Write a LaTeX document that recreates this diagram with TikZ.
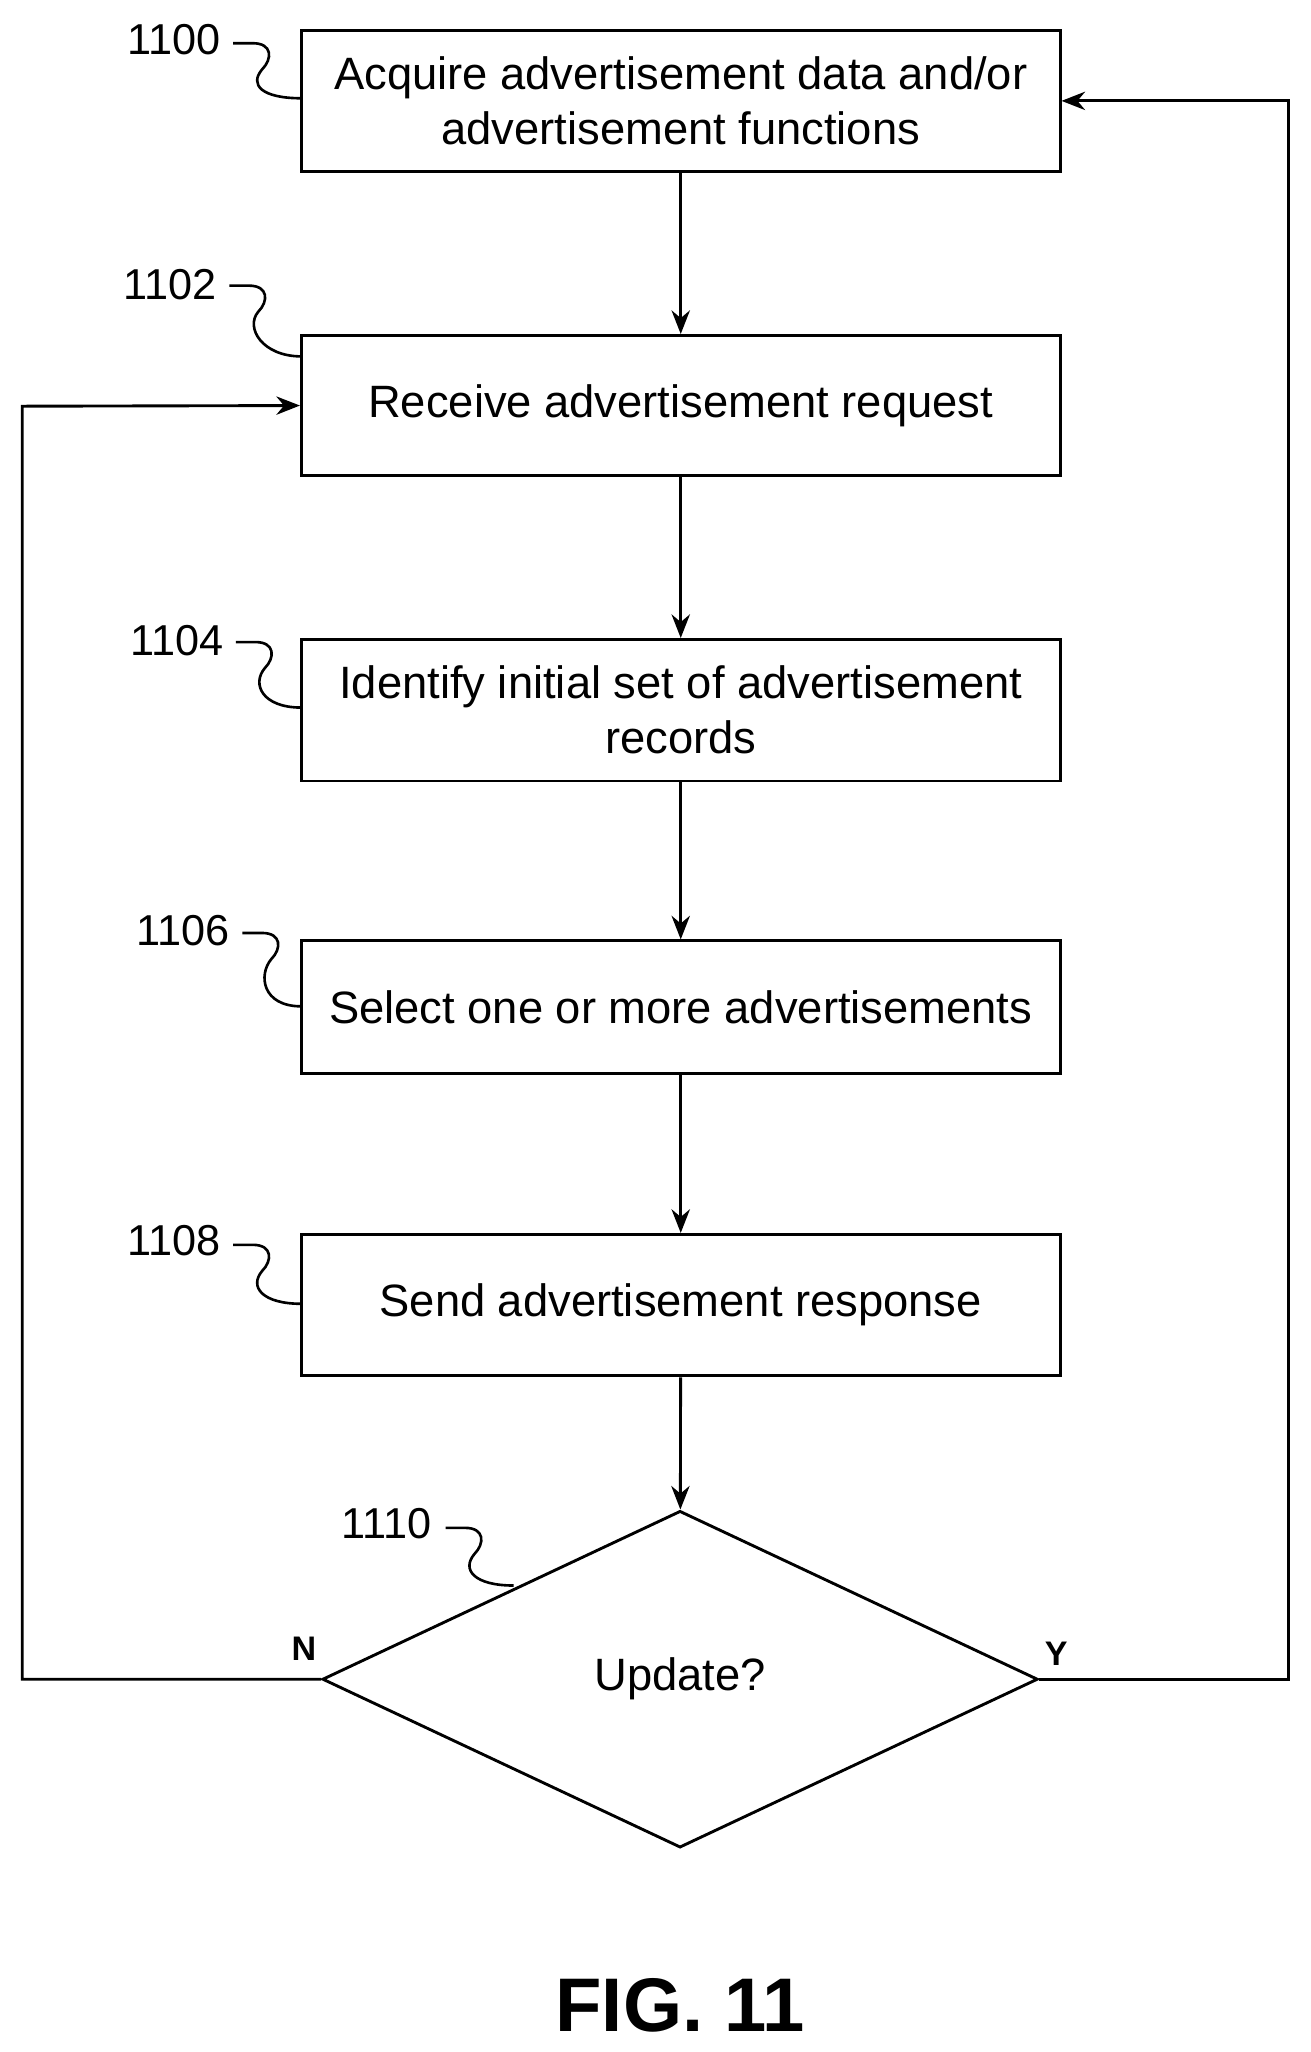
\documentclass[tikz,border=0pt]{standalone}
\usepackage{fontspec}
\setmainfont{Liberation Sans}
\usetikzlibrary{shapes.geometric,arrows.meta}
\begin{document}
\begin{tikzpicture}[x=0.5pt,y=-0.5pt,
  box/.style={draw,line width=1.1pt,minimum width=289.5pt,align=center,font=\fontsize{17.3}{21}\selectfont,inner sep=0pt},
  arr/.style={line width=1.1pt,-{Stealth[length=9pt,width=7pt]}},
  lbl/.style={font=\fontsize{16.5}{19}\selectfont,inner sep=1pt},
  sq/.style={line width=1pt}]
\useasboundingbox (0,0) rectangle (1000,1566);
\node[box,minimum height=54pt] (b0) at (519.5,77) {Acquire advertisement data and/or\\advertisement functions};
\node[box,minimum height=53.5pt] (b1) at (519.5,309.5) {Receive advertisement request};
\node[box,minimum height=54pt] (b2) at (519.5,542) {Identify initial set of advertisement\\records};
\node[box,minimum height=50.5pt] (b3) at (519.5,768.5) {Select one or more advertisements};
\node[box,minimum height=54pt] (b4) at (519.5,996) {Send advertisement response};
\node[draw,diamond,line width=1.1pt,minimum width=273pt,minimum height=128.5pt,inner sep=0pt,aspect=2.12,font=\fontsize{17.3}{21}\selectfont] (d) at (519,1281.5) {Update?};
\draw[arr] (b0) -- (b1);
\draw[arr] (b1) -- (b2);
\draw[arr] (b2) -- (b3);
\draw[arr] (b3) -- (b4);
\draw[arr] (b4) -- (d);
\coordinate (nl) at (17,1281.5);
\coordinate (nt) at (17,310);
\coordinate (yr) at (983,1281.5);
\coordinate (yt) at (983,77);
\draw[arr] (d.west) -- (nl) -- (nt) -- (b1.west);
\draw[arr] (d.east) -- (yr) -- (yt) -- (b0.east);
\node[font=\bfseries\fontsize{13}{15}\selectfont] (n) at (232,1258) {N};
\node[font=\bfseries\fontsize{13}{15}\selectfont] (y) at (806,1262) {Y};
\node[font=\bfseries\fontsize{29}{32}\selectfont] (fig) at (519,1530) {FIG. 11};
\node[lbl] (l0) at (133,30) {1100};
\node[lbl] (l1) at (130,217) {1102};
\node[lbl] (l2) at (135,489) {1104};
\node[lbl] (l3) at (140,710) {1106};
\node[lbl] (l4) at (133,947) {1108};
\node[lbl] (l5) at (295,1163) {1110};
\foreach \lx/\ly/\ex/\ey in {178/33/230/75, 175/218/230/272, 180/490/230/540, 185/712/230/768, 178/950/230/995, 340/1166/392/1210}{
  \draw[sq] (\lx,\ly) -- (\lx+15,\ly) .. controls (\lx+30,\ly) and (\lx+30,\ly+12) .. (\lx+22,\ly+20) .. controls (\lx+12,\ly+32) and (\ex-30,\ey) .. (\ex,\ey);
}
\end{tikzpicture}
\end{document}
